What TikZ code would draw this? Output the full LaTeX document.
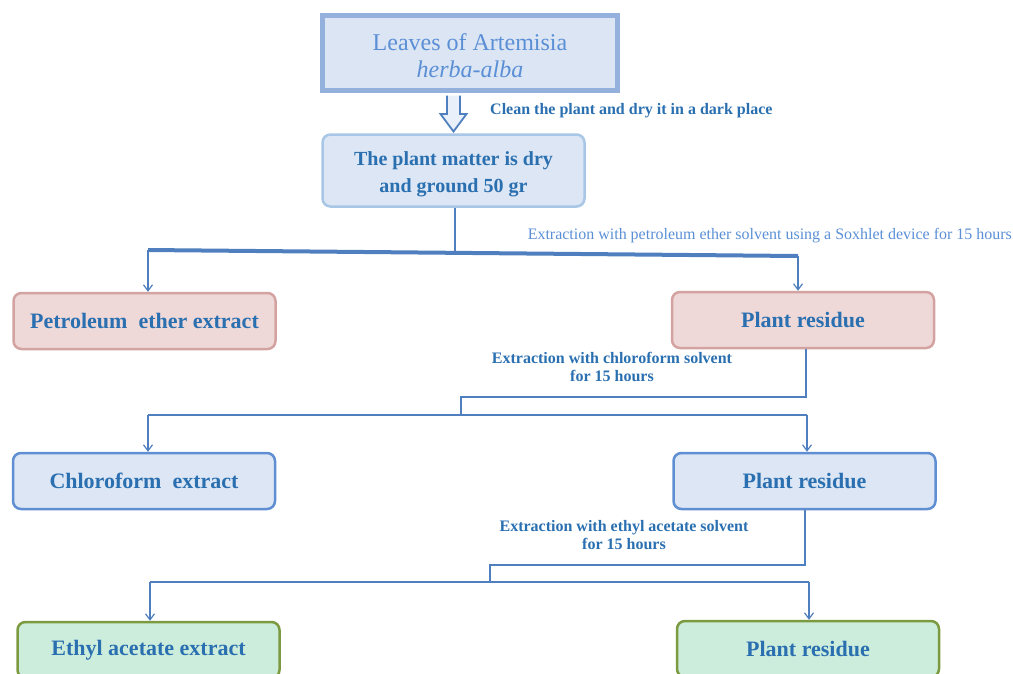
\documentclass[tikz,border=0pt]{standalone}
\usepackage{fontspec}
\setmainfont{Liberation Serif}
\usetikzlibrary{arrows.meta}
\definecolor{topfill}{HTML}{DCE5F3}
\definecolor{topdraw}{HTML}{93B1DC}
\definecolor{toptext}{HTML}{5A8FD6}
\definecolor{tblue}{HTML}{2A6FB0}
\definecolor{bluefill}{HTML}{DCE6F4}
\definecolor{bluedraw}{HTML}{A8C6E6}
\definecolor{blue2draw}{HTML}{5F8FD2}
\definecolor{pinkfill}{HTML}{EFD9D8}
\definecolor{pinkdraw}{HTML}{D3A3A1}
\definecolor{greenfill}{HTML}{CDEDDC}
\definecolor{greendraw}{HTML}{7C9A40}
\definecolor{conn}{HTML}{4F7FBF}
\definecolor{arrfill}{HTML}{EAF0F9}
\tikzset{
  box/.style={rounded corners=8pt, line width=2.5pt, minimum width=262pt, minimum height=56pt,
    align=center, text=tblue, font=\bfseries\fontsize{22}{26}\selectfont, inner sep=2pt},
  pinkbox/.style={box, fill=pinkfill, draw=pinkdraw},
  bluebox/.style={box, fill=bluefill, draw=blue2draw},
  greenbox/.style={box, fill=greenfill, draw=greendraw},
  lbl/.style={text=tblue, font=\bfseries\fontsize{16}{18.5}\selectfont, align=center, inner sep=0pt},
  conline/.style={draw=conn, line width=1.5pt},
  arr/.style={conline, -{Straight Barb[length=6pt,width=9pt,line width=1.2pt]}}
}
\begin{document}
\begin{tikzpicture}[x=1pt,y=-1pt]
\useasboundingbox (0,0) rectangle (1013,673);
\clip (0,0) rectangle (1013,673);
% top box
\node[draw=topdraw, fill=topfill, line width=5pt, minimum width=295pt, minimum height=75pt,
  align=center, text=toptext, font=\fontsize{24}{27}\selectfont] (top) at (470,53)
  {\rule{0pt}{23pt}Leaves of Artemisia\\\itshape herba-alba};
% second box
\node[box, fill=bluefill, draw=bluedraw, minimum width=262pt, minimum height=72pt,
  font=\bfseries\fontsize{20}{27}\selectfont] (dry) at (453.5,170.5)
  {\rule{0pt}{21pt}The plant matter is dry\\and ground 50 gr};
% hollow arrow (between top and dry)
\draw[draw=conn, fill=arrfill, line width=1.8pt, line join=miter]
  (447,95.5) -- (447,114) -- (440.5,114) -- (453.5,131.5) -- (466.5,114) -- (460,114) -- (460,95.5);
\node[lbl, anchor=west] (clean) at (490,111) {Clean the plant and dry it in a dark place};
% row 1
\node[pinkbox] (pe) at (144.5,321) {Petroleum\ \ ether extract};
\node[pinkbox] (pr1) at (803,320) {Plant residue};
% row 2
\node[bluebox] (ce) at (144,481) {Chloroform\ \ extract};
\node[bluebox] (pr2) at (804.5,481) {Plant residue};
% row 3
\node[greenbox] (ea) at (148.5,650) {Ethyl\ acetate extract};
\node[greenbox] (pr3) at (808,649) {Plant residue};
% labels
\node[anchor=east, inner sep=0pt, text=toptext] (soxlbl) at (1012,236)
  {\resizebox{484pt}{!}{\fontsize{15}{18}\selectfont Extraction with petroleum ether solvent using a Soxhlet device for 15 hours}};
\node[lbl] (chlbl) at (612,367) {Extraction with chloroform solvent\\for 15 hours};
\node[lbl] (ealbl) at (624,535) {Extraction with ethyl acetate solvent\\for 15 hours};
% connectors level 1
\coordinate (j0) at (455,252);
\coordinate (j1L) at (148,250);
\coordinate (j1R) at (798,256);
\draw[conline] (dry.south -| j0) -- (j0);
\draw[draw=conn, line width=4pt] (j1L) -- (j1R);
\draw[arr] (j1L) -- (j1L |- pe.north);
\draw[arr] (j1R) -- (j1R |- pr1.north);
% connectors level 2
\coordinate (k1) at (806,397);
\coordinate (k2) at (461,397);
\coordinate (k3) at (461,415);
\coordinate (k2L) at (148,415);
\coordinate (k2R) at (807,415);
\draw[conline] (pr1.south -| k1) -- (k1) -- (k2) -- (k3);
\draw[conline] (k2L) -- (k2R);
\draw[arr] (k2L) -- (k2L |- ce.north);
\draw[arr] (k2R) -- (k2R |- pr2.north);
% connectors level 3
\coordinate (m1) at (805,565);
\coordinate (m2) at (490,565);
\coordinate (m3) at (490,582);
\coordinate (m2L) at (150,582);
\coordinate (m2R) at (809,582);
\draw[conline] (pr2.south -| m1) -- (m1) -- (m2) -- (m3);
\draw[conline] (m2L) -- (m2R);
\draw[arr] (m2L) -- (m2L |- ea.north);
\draw[arr] (m2R) -- (m2R |- pr3.north);
\end{tikzpicture}
\end{document}
